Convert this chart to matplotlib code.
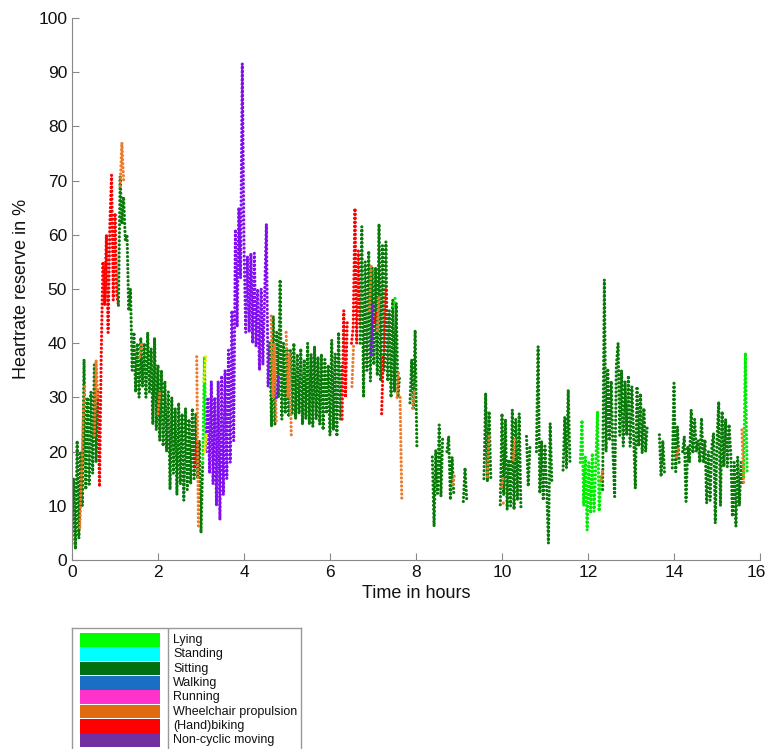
import matplotlib
matplotlib.use("Agg")
import matplotlib.pyplot as plt
import matplotlib.transforms as mtransforms
import numpy as np

plt.rcParams['font.family'] = ['Liberation Sans', 'DejaVu Sans']

# sample step of the readings, in hours
dt = 0.04

activities = ['Lying', 'Standing', 'Sitting', 'Walking', 'Running',
              'Wheelchair propulsion', '(Hand)biking', 'Non-cyclic moving']
act_colors = {'Lying': '#00ee00', 'Standing': '#00ffff', 'Sitting': '#0a7a0a',
              'Walking': '#0066c8', 'Running': '#ff33cc',
              'Wheelchair propulsion': '#ee7a2a', '(Hand)biking': '#ff0000',
              'Non-cyclic moving': '#8010ee', 'Other': '#eeee00'}
legend_colors = ['#00ff00', '#00ffff', '#007010', '#1a6fc4', '#ff33cc',
                 '#e06a10', '#ff0000', '#7030a0']

# main recording, heartrate reserve (%) read per segment
seg_start = [0.00, 0.60, 1.08, 3.04, 3.12, 4.60, 6.28, 6.50, 6.70, 7.86,
             8.38, 8.72, 9.10, 9.58, 9.96, 10.57, 10.80, 11.42, 11.82, 12.34,
             13.66, 13.96, 14.20, 15.62]
seg_act = ['Sitting', '(Hand)biking', 'Sitting', 'Lying', 'Non-cyclic moving',
           'Sitting', '(Hand)biking', '(Hand)biking', 'Sitting', 'Sitting',
           'Sitting', 'Sitting', 'Sitting', 'Sitting', 'Sitting', 'Sitting',
           'Sitting', 'Sitting', 'Lying', 'Sitting',
           'Sitting', 'Sitting', 'Sitting', 'Lying']
seg_vals = [
    [3, 15, 2, 22, 4, 20, 10, 37, 13, 30, 14, 31, 16, 36, 18, 30],
    [31, 13.5, 38, 55, 47, 60, 42, 62, 71, 48, 64, 49, 47],
    [47, 70.7, 62, 67, 59, 60, 46, 50, 35,
     42, 31, 40, 30, 41, 32, 40, 30, 42, 31,
     39, 25, 41, 24, 36, 22, 35, 21, 33, 20,
     31, 13, 30, 16, 28, 12, 29, 14, 27, 11,
     28, 13, 26, 14, 28, 15, 27, 15, 22, 5, 18],
    [18, 37.5, 20.3],
    [20, 30, 16, 33, 14, 30, 10, 33, 7.4, 34,
     12, 35, 15, 38.7, 18, 46, 22, 61, 43, 65,
     52, 91.6, 58, 42, 56, 42, 56.6, 40, 56.6, 39.4,
     50, 35, 50, 36, 49, 62, 32, 40],
    [40, 24.6, 45, 25, 42, 30, 51.7, 26, 40, 27,
     39, 26.4, 38.7, 27, 40, 26, 38, 27, 39, 25,
     37, 26, 40, 25, 38, 24.6, 39.4, 26, 37.5, 25,
     38, 24, 37, 27, 36, 23, 40.6, 24, 38, 22.8,
     42, 26, 36],
    [26, 46, 30, 44],
    [40, 43, 64.9, 40, 57, 43],
    [40, 61.5, 30, 55, 35, 57, 33, 54, 36, 54, 34, 62,
     33, 58, 35, 58.7, 33, 46, 30, 48, 31, 47.4, 30, 34],
    [29, 37, 28, 42.4, 21],
    [19, 6.2, 20.3, 12.3, 24.9, 11.7, 22.8],
    [20, 22.8, 11.1, 19, 12],
    [10.8, 17, 11],
    [15, 30.8, 14.5, 27.4, 15],
    [10.2, 27, 12, 26, 9.3, 18.5, 10, 27.7, 9.3, 26, 11, 27, 9.5],
    [22.8, 13.6, 21],
    [20, 39.4, 12.3, 22, 11, 21, 13, 3.1, 25.2, 14],
    [16.6, 26.4, 17, 31.4, 18],
    [18, 25.8, 10, 19, 5.5, 18, 8.6, 19.7, 9, 17.2, 27.4, 9, 16],
    [13, 51.7, 20, 35, 22, 33, 20, 11.7, 36, 40,
     23, 35, 21, 33, 23, 34, 21, 32, 23, 13.2,
     32, 21, 30.7, 19.7, 28, 20, 25],
    [23.1, 15.4, 22, 16],
    [17, 32.6, 16.3, 24.6, 18],
    [20, 22.8, 10.8, 21, 18, 27.7, 19.7, 26, 20, 22, 18, 26.2,
     17.9, 22.2, 10.5, 20, 11, 21, 23.4, 6.8, 22, 29.2, 10, 27.4,
     17.2, 26, 17.2, 25, 19.7, 8, 18, 6.2, 19, 10, 18, 14],
    [15.4, 38.2, 16],
]

# short stretches of other activities inside the main segments
over_start = [0.18, 0.52, 1.12, 1.58, 2.00, 2.86, 2.90, 3.07, 3.09, 4.63,
              4.76, 4.98, 6.51, 6.92, 6.96, 7.04, 7.10, 7.20, 7.26, 7.48,
              7.56, 7.63, 7.92, 8.86, 9.66, 9.99, 10.03, 10.26, 12.31, 14.06,
              15.58]
over_act = ['Wheelchair propulsion', 'Wheelchair propulsion', 'Wheelchair propulsion',
            'Wheelchair propulsion', 'Wheelchair propulsion', '(Hand)biking',
            'Wheelchair propulsion', 'Other', 'Other', 'Wheelchair propulsion',
            'Non-cyclic moving', 'Wheelchair propulsion', 'Wheelchair propulsion',
            'Wheelchair propulsion', 'Non-cyclic moving', '(Hand)biking',
            'Wheelchair propulsion', '(Hand)biking', '(Hand)biking', 'Lying',
            'Wheelchair propulsion', 'Wheelchair propulsion', 'Wheelchair propulsion',
            'Wheelchair propulsion', 'Wheelchair propulsion', 'Wheelchair propulsion',
            'Wheelchair propulsion', 'Wheelchair propulsion', 'Wheelchair propulsion',
            'Wheelchair propulsion', 'Wheelchair propulsion']
over_vals = [
    [6, 15, 26, 32.6], [23, 36.9, 30], [69, 77, 70], [37.5, 40], [27, 30.7],
    [17.2, 22], [37.5, 6.2], [33, 37.5], [20, 23.5], [45, 30, 40, 25],
    [30, 34], [42, 30, 38, 23], [32, 40], [46, 54.8], [38, 47],
    [44, 45.5], [42.4, 48.6], [27, 38], [38.7, 50], [46.8, 48.6],
    [30, 35], [30, 11], [28, 31], [14, 16], [15.4, 23.4],
    [13.5, 15.4], [10.5, 11], [18.5, 22.7], [14.8, 16.9], [19, 20.5],
    [24, 14.2],
]

fig = plt.figure(figsize=(7.68, 7.49), dpi=100)
ax = fig.add_axes([72 / 768, 189 / 749, 688 / 768, 542 / 749])

dots = (0, (0.01, 1.25))
for start, act, vals in zip(seg_start, seg_act, seg_vals):
    t = start + dt * np.arange(len(vals))
    ax.plot(t, vals, color=act_colors[act], ls=dots, lw=2.3,
            dash_capstyle='round', zorder=2)
for start, act, vals in zip(over_start, over_act, over_vals):
    t = start + dt * np.arange(len(vals))
    ax.plot(t, vals, color=act_colors[act], ls=dots, lw=2.3,
            dash_capstyle='round', zorder=3)

ax.set_xlim(0, 16)
ax.set_ylim(0, 100)
ax.set_xticks(np.arange(0, 17, 2))
ax.set_yticks(np.arange(0, 101, 10))
for s in ['top', 'right']:
    ax.spines[s].set_visible(False)
for s in ['left', 'bottom']:
    ax.spines[s].set_color('#888888')
ax.tick_params(direction='in', length=5, color='#888888', labelsize=12.5,
               labelcolor='#111111')
ax.set_xlabel('Time in hours', fontsize=13, labelpad=4, color='#111111')
ax.set_ylabel('Heartrate reserve in %', fontsize=13, labelpad=6, color='#111111')

# keep the "16" inside the picture
last = ax.get_xticklabels()[-1]
last.set_transform(last.get_transform() +
                   mtransforms.ScaledTranslation(-2.5 / 72, 0, fig.dpi_scale_trans))

# legend box, drawn in pixel units of its own axes
lax = fig.add_axes([72 / 768, -6 / 749, 229 / 768, 127 / 749])
lax.set_xlim(0, 229)
lax.set_ylim(127, 0)
lax.set_xticks([])
lax.set_yticks([])
for s in lax.spines.values():
    s.set_color('#999999')
    s.set_linewidth(1.0)
lax.axvline(96, color='#999999', lw=1.0)
row_h = 14.3
for i, (name, c) in enumerate(zip(activities, legend_colors)):
    y0 = 5 + i * row_h
    lax.add_patch(plt.Rectangle((8, y0), 80, row_h - 0.5, color=c, lw=0))
    lax.text(101, y0 + row_h / 2, name, fontsize=9, va='center', ha='left',
             color='#111111')

fig.savefig('out.png', dpi=100)
